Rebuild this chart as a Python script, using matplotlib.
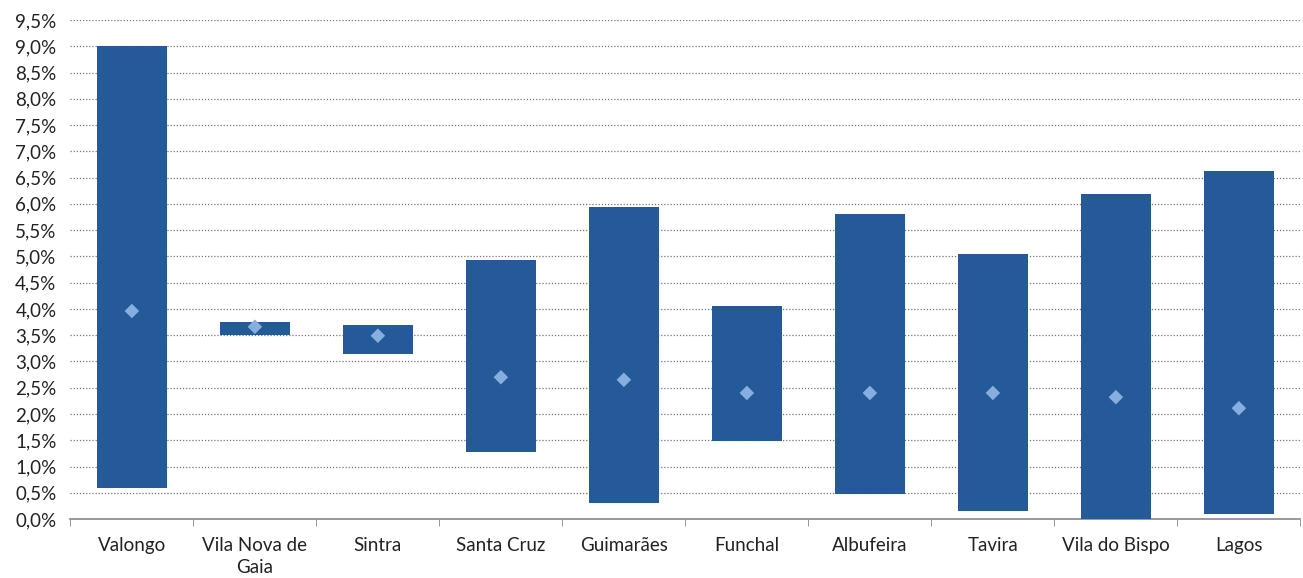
import matplotlib.pyplot as plt
import numpy as np
from matplotlib.ticker import FuncFormatter, FixedLocator

plt.rcParams['font.family'] = ['Lato', 'DejaVu Sans']

CITIES = ['Valongo', 'Vila Nova de\nGaia', 'Sintra', 'Santa Cruz', 'Guimarães',
          'Funchal', 'Albufeira', 'Tavira', 'Vila do Bispo', 'Lagos']
LOW = [0.59, 3.50, 3.14, 1.28, 0.30, 1.49, 0.48, 0.15, 0.0, 0.10]
HIGH = [9.01, 3.75, 3.70, 4.93, 5.94, 4.06, 5.81, 5.05, 6.19, 6.63]
MID = [3.96, 3.66, 3.49, 2.70, 2.65, 2.40, 2.40, 2.40, 2.32, 2.11]


def main():
	fig = plt.figure(figsize=(13.03, 5.78), dpi=100)
	ax = fig.add_axes([0.054, 0.102, 0.944, 0.8634])
	x = np.arange(len(CITIES))
	heights = [h - l for h, l in zip(HIGH, LOW)]
	ax.bar(x, heights, bottom=LOW, width=0.57, color='#245A98', zorder=3)
	ax.scatter(x, MID, marker='D', s=55, color='#86AEDF', edgecolor='none', zorder=4)

	ax.set_xlim(-0.5, len(CITIES) - 0.5)
	ax.set_ylim(0, 9.5)
	ax.set_yticks(np.arange(0, 9.51, 0.5))
	ax.yaxis.set_major_formatter(FuncFormatter(lambda v, p: ('%.1f%%' % v).replace('.', ',')))
	ax.grid(axis='y', linestyle=(0, (1, 1.5)), color='#777777', linewidth=0.9, zorder=0)

	ax.set_xticks(x)
	ax.set_xticklabels(CITIES, linespacing=1.35)
	ax.xaxis.set_minor_locator(FixedLocator(np.arange(-0.5, len(CITIES), 1)))
	ax.tick_params(axis='x', which='major', length=0, pad=13, labelsize=13.5, colors='#222222')
	ax.tick_params(axis='x', which='minor', length=5, color='#888888')
	ax.tick_params(axis='y', length=0, pad=10, labelsize=13.5, colors='#222222')

	for side in ['top', 'right', 'left']:
		ax.spines[side].set_visible(False)
	ax.spines['bottom'].set_color('#888888')
	ax.spines['bottom'].set_linewidth(1.2)

	plt.savefig('out.png', dpi=100)
	plt.close()


if __name__ == '__main__':
	main()
